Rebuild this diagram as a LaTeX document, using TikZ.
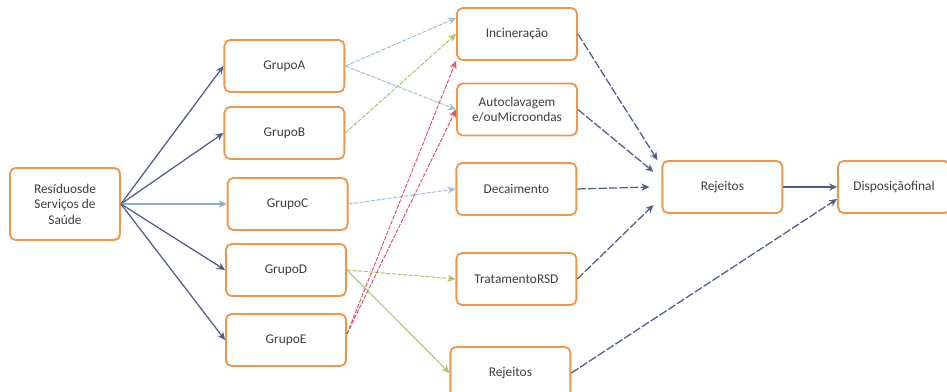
\documentclass[tikz,border=0pt]{standalone}
\usepackage{fontspec}
\setmainfont{Carlito}
\usetikzlibrary{arrows.meta,positioning}
\definecolor{boxline}{HTML}{F0964A}
\definecolor{txtgray}{HTML}{3F3F3F}
\definecolor{darkarrow}{HTML}{4D6089}
\definecolor{lightarrow}{HTML}{9DBFE3}
\definecolor{greenarrow}{HTML}{A8C46C}
\definecolor{redarrow}{HTML}{D95A68}

\begin{document}
\begin{tikzpicture}[every node/.style={font=\fontsize{9.5}{11}\selectfont,text=txtgray}, box/.style={draw=boxline,line width=1.3pt,rounded corners=4pt,align=center,minimum height=13mm,minimum width=30mm,fill=white}, arrow/.style={-{Stealth[length=2mm,width=1.8mm]},line width=0.9pt,darkarrow}, dasharrow/.style={arrow,dash pattern=on 6pt off 1.5pt}, light/.style={-{Stealth[length=2mm,width=1.8mm]},line width=0.7pt,dash pattern=on 3pt off 1pt}]
\useasboundingbox (0,0) rectangle (23.675,9.775);
\fill[white] (0,0) rectangle (23.675,9.775);
\node[box,minimum width=27.5mm,minimum height=18mm] (res) at (1.625,4.675) {Resíduosde\\Serviços de\\Saúde};
\node[box] (grA) at (7.11,8.125) {GrupoA};
\node[box] (grB) at (7.11,6.45) {GrupoB};
\node[box] (grC) at (7.19,4.675) {GrupoC};
\node[box] (grD) at (7.15,3.025) {GrupoD};
\node[box] (grE) at (7.15,1.275) {GrupoE};
\node[box] (inc) at (12.925,8.925) {Incineração};
\node[box] (auto) at (12.925,7.0375) {Autoclavagem\\e/ouMicroondas};
\node[box] (dec) at (12.91,5.05) {Decaimento};
\node[box] (trat) at (12.91,2.8) {TratamentoRSD};
\node[box] (rejB) at (12.76,0.45) {Rejeitos};
\node[box] (rej) at (18.06,5.1) {Rejeitos};
\node[box,minimum width=28mm] (disp) at (22.35,5.1) {Disposiçãofinal};
% origem -> grupos
\draw[arrow] (res.east)--(grA.west);
\draw[arrow] (res.east)--(grB.west);
\draw[arrow,lightarrow!80!darkarrow] (res.east)--(grC.west);
\draw[arrow] (res.east)--(grD.west);
\draw[arrow] (res.east)--(grE.west);
% grupos -> tratamentos
\draw[light,lightarrow] (grA.east)--([yshift=4mm]inc.west);
\draw[light,lightarrow] (grA.east)--(auto.west);
\draw[light,greenarrow] (grB.east)--(inc.west);
\draw[light,lightarrow] (grC.east)--(dec.west);
\draw[light,greenarrow] (grD.east)--(trat.west);
\draw[light,greenarrow,solid] (grD.east)--(rejB.west);
\draw[light,redarrow] ([yshift=1.5mm]grE.east)--(inc.south west);
\draw[light,redarrow] ([yshift=1.5mm]grE.east)--(auto.west);
% tratamentos -> rejeitos
\draw[dasharrow] (inc.east)--([xshift=-1mm]rej.north west);
\draw[dasharrow] (auto.east)--([xshift=-2mm,yshift=3.8mm]rej.west);
\draw[dasharrow] (dec.east)--([xshift=-3mm]rej.west);
\draw[dasharrow] (trat.east)--([xshift=-2mm,yshift=-4.5mm]rej.west);
\draw[arrow] (rej.east)--(disp.west);
\draw[dasharrow] (rejB.east)--([yshift=-3mm]disp.west);
\end{tikzpicture}
\end{document}
